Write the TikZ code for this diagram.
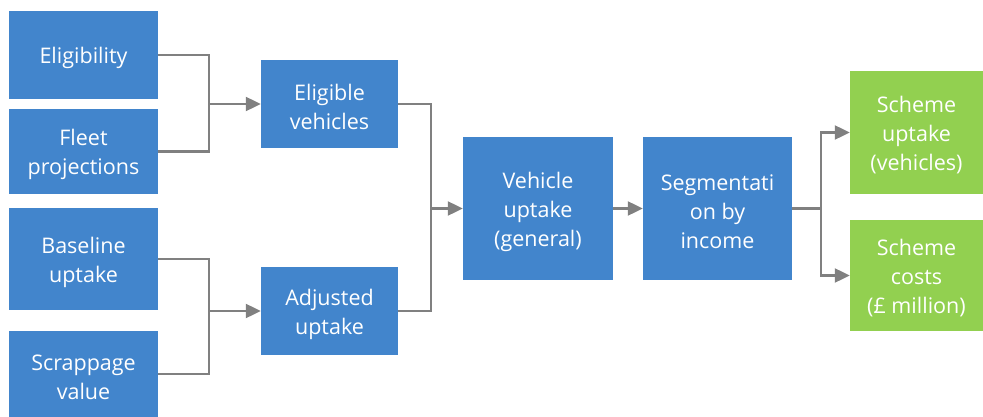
\documentclass[tikz,border=0pt]{standalone}
\usepackage{fontspec}
\setmainfont{Open Sans}
\usetikzlibrary{arrows.meta}
\definecolor{boxblue}{RGB}{66,133,204}
\definecolor{boxgreen}{RGB}{146,208,80}
\definecolor{linegrey}{RGB}{128,128,128}
\begin{document}
\begin{tikzpicture}[x=1pt,y=-1pt,
  box/.style={rectangle,fill=boxblue,inner sep=0pt},
  gbox/.style={box,fill=boxgreen},
  txt/.style={text=white,align=center,inner sep=0pt,
    font=\fontsize{21.5}{29}\selectfont},
  conn/.style={draw=linegrey,line width=2.2pt},
  arr/.style={conn,-{Triangle[length=15pt,width=14pt]}}]
\useasboundingbox (0,0) rectangle (983,417);
\node[box,minimum width=149pt,minimum height=88pt] (elig) at (83.5,55) {};
\node[box,minimum width=149pt,minimum height=85pt] (fleet) at (83.5,151.5) {};
\node[box,minimum width=149pt,minimum height=102pt] (base) at (83.5,259) {};
\node[box,minimum width=149pt,minimum height=86pt] (scrap) at (83.5,374) {};
\node[box,minimum width=137pt,minimum height=88pt] (ev) at (329.5,104) {};
\node[box,minimum width=137pt,minimum height=88pt] (adj) at (329.5,311) {};
\node[box,minimum width=150pt,minimum height=143pt] (vu) at (538,208.5) {};
\node[box,minimum width=149pt,minimum height=143pt] (seg) at (717.5,208.5) {};
\node[gbox,minimum width=133pt,minimum height=123pt] (su) at (916.5,132.5) {};
\node[gbox,minimum width=133pt,minimum height=111pt] (sc) at (916.5,275.5) {};
\node[txt] (eligt) at ([yshift=-3pt]elig.center) {Eligibility};
\node[txt] (fleett) at ([yshift=-3pt]fleet.center) {Fleet\\projections};
\node[txt] (baset) at ([yshift=-3pt]base.center) {Baseline\\uptake};
\node[txt] (scrapt) at ([yshift=-3pt]scrap.center) {Scrappage\\value};
\node[txt] (evt) at ([yshift=-3pt]ev.center) {Eligible\\vehicles};
\node[txt] (adjt) at ([yshift=-3pt]adj.center) {Adjusted\\uptake};
\node[txt] (vut) at ([yshift=-3pt]vu.center) {Vehicle\\uptake\\(general)};
\node[txt] (segt) at ([yshift=-3pt]seg.center) {Segmentati\\on by\\income};
\node[txt] (sut) at ([yshift=-3pt]su.center) {Scheme\\uptake\\(vehicles)};
\node[txt] (sct) at ([yshift=-3pt]sc.center) {Scheme\\costs\\(£ million)};
\coordinate (j1) at (209,104);
\coordinate (j2) at (209,311);
\coordinate (j3) at (431,208.5);
\coordinate (j4) at (821,208.5);
\draw[conn] (elig.east) -| (j1) |- (fleet.east);
\draw[arr] (j1) -- (ev.west);
\draw[conn] (base.east) -| (j2) |- (scrap.east);
\draw[arr] (j2) -- (adj.west);
\draw[conn] (ev.east) -| (j3) |- (adj.east);
\draw[arr] (j3) -- (vu.west);
\draw[arr] (vu.east) -- (seg.west);
\draw[conn] (seg.east) -- (j4);
\draw[arr] (j4) |- (su.west);
\draw[arr] (j4) |- (sc.west);
\end{tikzpicture}
\end{document}
